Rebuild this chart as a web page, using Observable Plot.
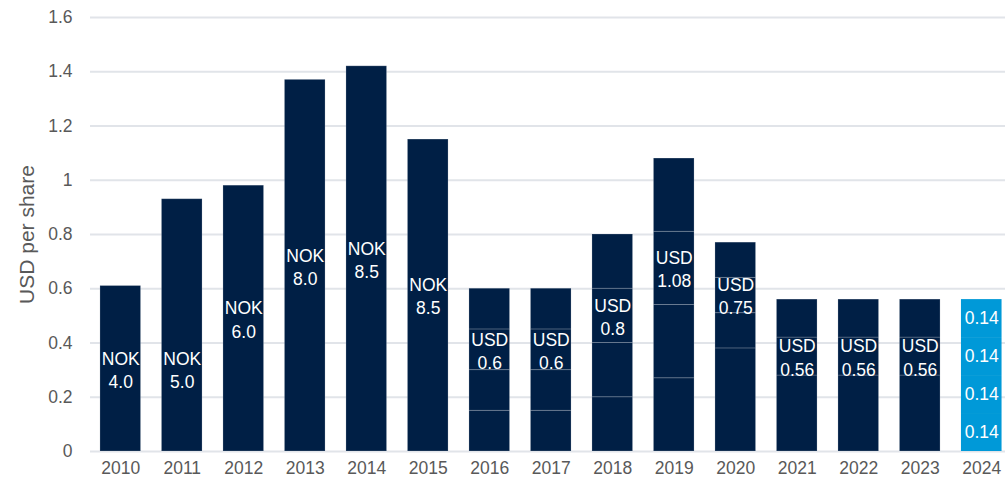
<!DOCTYPE html>
<html>
<head>
<meta charset="utf-8">
<script src="https://cdn.jsdelivr.net/npm/d3@7"></script>
<script src="https://cdn.jsdelivr.net/npm/@observablehq/plot@0.6"></script>
<style>
  html, body { margin: 0; padding: 0; background: #fff; }
  #chart svg { display: block; }
</style>
</head>
<body>
<div id="chart"></div>
<script>
const years = ["2010","2011","2012","2013","2014","2015","2016","2017","2018","2019","2020","2021","2022","2023","2024"];
// dividend segments per year (USD per share), bottom to top
const segments = [
  [0.61], [0.93], [0.98], [1.37], [1.42], [1.15],
  [0.15, 0.15, 0.15, 0.15],
  [0.15, 0.15, 0.15, 0.15],
  [0.20, 0.20, 0.20, 0.20],
  [0.27, 0.27, 0.27, 0.27],
  [0.38, 0.13, 0.13, 0.13],
  [0.28, 0.14, 0.14],
  [0.28, 0.14, 0.14],
  [0.28, 0.14, 0.14],
  [0.14, 0.14, 0.14, 0.14]
];
const currencies = ["NOK","NOK","NOK","NOK","NOK","NOK","USD","USD","USD","USD","USD","USD","USD","USD",""];
const labelValues = ["4.0","5.0","6.0","8.0","8.5","8.5","0.6","0.6","0.8","1.08","0.75","0.56","0.56","0.56",""];
const labelY = [0.305, 0.305, 0.49, 0.685, 0.71, 0.575, 0.375, 0.375, 0.50, 0.675, 0.575, 0.35, 0.35, 0.35, null];
const highlightYear = "2024";
const segmentLabel2024 = "0.14";
const yTicks = [0, 0.2, 0.4, 0.6, 0.8, 1.0, 1.2, 1.4, 1.6];
const yTitle = "USD per share";

const rows = [];
years.forEach((yr, i) => {
  let base = 0;
  segments[i].forEach((v, j) => {
    rows.push({year: yr, value: v, seg: j, mid: base + v / 2});
    base += v;
  });
});
const paid = rows.filter(d => d.year !== highlightYear);
const hl = rows.filter(d => d.year === highlightYear);
const labels = years.map((yr, i) => ({year: yr, text: currencies[i] + "\n" + labelValues[i], y: labelY[i]}))
  .filter(d => d.y != null);

const navy = "#001f45";
const blue = "#0099d8";
const fs = 17.5;

const chart = Plot.plot({
  width: 1005,
  height: 486,
  marginTop: 17,
  marginBottom: 35,
  marginLeft: 90,
  marginRight: 0,
  style: {fontFamily: "'Liberation Sans', Arial, sans-serif", fontSize: fs + "px", color: "#595959", background: "#fff"},
  x: {domain: years, range: [89.5, 1012], paddingInner: 0.34, paddingOuter: 0.17, round: false, label: null},
  y: {domain: [0, 1.6], label: null},
  marks: [
    Plot.ruleY(yTicks, {stroke: "#e1e4e9", strokeWidth: 2}),
    Plot.barY(paid, {x: "year", y: "value", fill: navy, stroke: "#ffffff", strokeOpacity: 0.18, strokeWidth: 1, inset: 0}),
    Plot.barY(hl, {x: "year", y: "value", fill: blue, inset: 0}),
    Plot.text(labels, {x: "year", y: "y", text: "text", fill: "white", fontSize: fs, lineHeight: 1.32}),
    Plot.text(hl, {x: "year", y: "mid", text: () => segmentLabel2024, fill: "white", fontSize: fs}),
    Plot.axisY({ticks: yTicks, tickSize: 0, tickPadding: 18, tickFormat: d => String(+d.toFixed(1)), fontSize: fs, fill: "#595959", label: null}),
    Plot.text([yTitle], {frameAnchor: "left", textAnchor: "middle", rotate: -90, dx: -63, fontSize: 21, fill: "#595959"}),
    Plot.axisX({tickSize: 0, tickPadding: 10, fontSize: fs, fill: "#595959", label: null})
  ]
});
document.getElementById("chart").appendChild(chart);
</script>
</body>
</html>
